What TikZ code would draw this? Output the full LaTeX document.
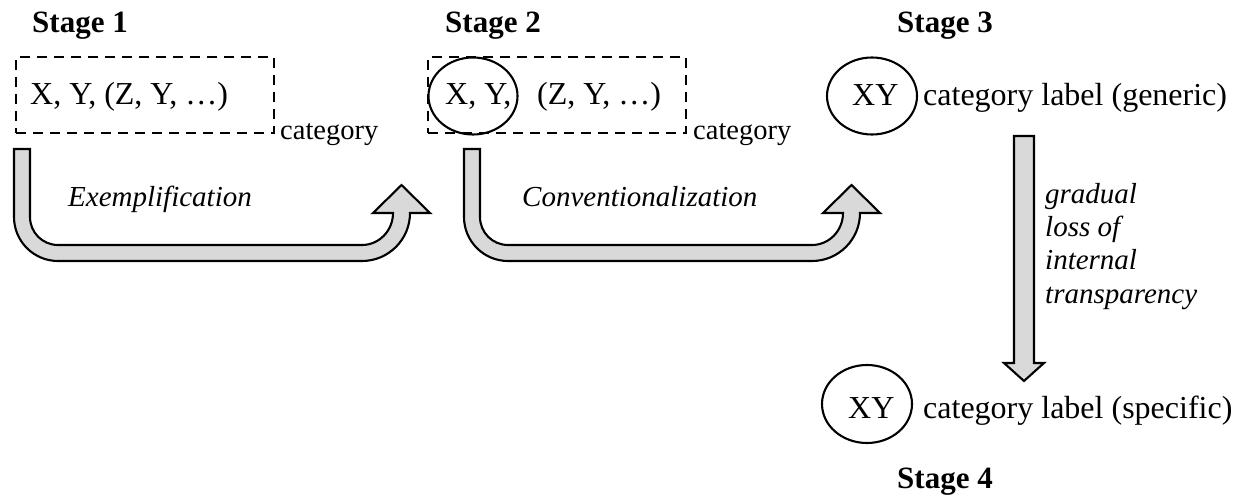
\documentclass[tikz,border=0pt]{standalone}
\usepackage{fontspec}
\setmainfont{Liberation Serif}
\usetikzlibrary{shapes.geometric}
\begin{document}
\begin{tikzpicture}[x=1pt,y=-1pt,
  lbl/.style={anchor=base west, inner sep=0pt, font=\fontsize{32}{36}\selectfont},
  smalllbl/.style={anchor=base west, inner sep=0pt, font=\fontsize{28.5}{33}\selectfont},
  itallbl/.style={anchor=base west, inner sep=0pt, align=left, font=\fontsize{29}{33.3}\selectfont\itshape},
  stagelbl/.style={anchor=base west, inner sep=0pt, font=\fontsize{31}{36}\selectfont\bfseries},
  dashbox/.style={draw, line width=2.2pt, dash pattern=on 10pt off 7pt, inner sep=0pt},
  oval/.style={draw, ellipse, line width=2.1pt, inner sep=0pt},
  blockarrow/.style={draw, line width=2.1pt, fill=gray!30, line join=miter},
]
\useasboundingbox (0,0) rectangle (1237,497);

% stage labels
\node[stagelbl] (s1) at (32,33) {Stage 1};
\node[stagelbl] (s2) at (445,33) {Stage 2};
\node[stagelbl] (s3) at (897,33) {Stage 3};
\node[stagelbl] (s4) at (897,488) {Stage 4};

% stage 1
\node[dashbox, minimum width=258pt, minimum height=76pt] (box1) at (145,95) {};
\node[lbl] (t1) at (30,105) {X, Y, (Z, Y, …)};
\node[smalllbl] (c1) at (280,140) {category};

% stage 2
\node[dashbox, minimum width=258pt, minimum height=76pt] (box2) at (557,95) {};
\node[oval, minimum width=89pt, minimum height=77pt] (e2) at (473,96) {};
\node[lbl] (t2a) at (445,105) {X, Y,};
\node[lbl] (t2b) at (537,105) {(Z, Y, …)};
\node[smalllbl] (c2) at (693,140) {category};

% stage 3
\node[oval, minimum width=90pt, minimum height=77pt] (e3) at (872,96) {};
\node[lbl] (xy3) at (852,106) {XY};
\node[lbl] (g3) at (923,106) {category label (generic)};

% stage 4
\node[oval, minimum width=90pt, minimum height=78pt] (e4) at (867,404) {};
\node[lbl] (xy4) at (848,418) {XY};
\node[lbl] (g4) at (923,418) {category label (specific)};

% U-shaped block arrows
\foreach \dx in {0,450}{
\begin{scope}[xshift=\dx pt]
\draw[blockarrow] (14,149) -- (14,217)
  .. controls (14,241.3) and (33.7,261) .. (58,261)
  -- (362,261)
  .. controls (388.5,261) and (410,239.5) .. (410,213)
  -- (430,213) -- (401.5,185) -- (373,213) -- (393,213)
  .. controls (393,230.7) and (379.1,245) .. (362,245)
  -- (58,245)
  .. controls (42.5,245) and (30,232.5) .. (30,217)
  -- (30,149) -- cycle;
\end{scope}
}
\node[itallbl] (ex) at (68,207) {Exemplification};
\node[itallbl] (cv) at (522,207) {Conventionalization};

% down block arrow
\draw[blockarrow] (1014,136) -- (1014,363) -- (1004,363) -- (1024,381)
  -- (1044,363) -- (1034,363) -- (1034,136) -- cycle;
\node[itallbl, anchor=north west] (gl) at (1045,183) {gradual\\loss of\\internal\\transparency};
\end{tikzpicture}
\end{document}
